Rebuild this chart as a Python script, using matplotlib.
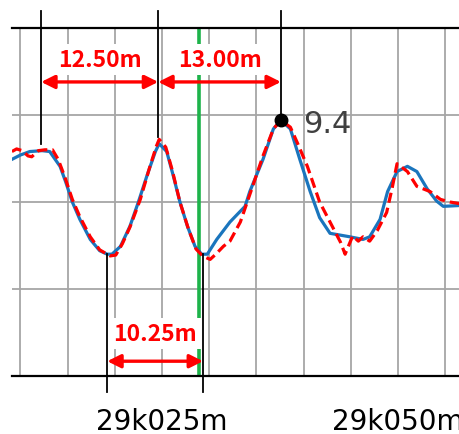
#!/usr/bin/env python3
"""Track irregularity chart: measured (blue) vs simulated (red dashed)."""
import matplotlib
matplotlib.use('Agg')
import matplotlib.pyplot as plt
from matplotlib.ticker import FixedLocator, MultipleLocator

BASE_M = 29000  # chainage base, metres

# measured profile (blue) — chainage offset from 29k000m, value
blue_x = [9.1, 10.0, 11.0, 12.3, 13.1, 14.2, 14.8, 15.5, 16.3, 17.4, 18.4, 19.2,
          19.7, 20.6, 21.6, 22.5, 23.4, 24.3, 24.7, 25.5, 26.2, 26.9, 27.7, 28.5,
          29.2, 29.8, 30.8, 32.2, 33.8, 34.3, 35.7, 36.8, 37.6, 38.6, 39.6, 40.7,
          41.7, 42.8, 44.9, 46.3, 47.0, 48.1, 48.9, 49.9, 51.0, 52.0, 53.1, 54.1,
          54.8, 56.6]
blue_y = [4.9, 5.4, 5.8, 5.9, 5.8, 4.1, 2.3, 0.0, -2.0, -4.3, -5.6, -6.0,
          -6.0, -5.1, -2.8, 0.0, 3.0, 5.8, 6.7, 5.8, 3.0, 0.0, -2.8, -5.1,
          -6.0, -6.0, -4.3, -2.3, -0.5, 1.2, 4.9, 8.4, 9.4, 8.4, 4.9, 1.2,
          -1.8, -3.6, -4.0, -4.3, -4.0, -2.0, 1.2, 3.5, 4.1, 3.5, 1.5, 0.1,
          -0.5, -0.4]

# simulated profile (red dashed)
red_x = [9.1, 9.6, 10.2, 10.8, 11.2, 11.9, 12.6, 13.4, 14.0, 14.7, 15.5, 16.3,
         17.4, 18.4, 19.5, 20.1, 20.8, 21.6, 22.7, 23.7, 24.4, 24.7, 25.4, 26.1,
         26.9, 27.8, 28.6, 29.3, 30.1, 30.7, 31.5, 32.2, 33.3, 34.6, 35.7, 36.8,
         37.6, 38.6, 39.3, 40.4, 41.7, 42.8, 43.9, 44.4, 45.2, 45.8, 46.3, 47.0,
         47.8, 48.8, 49.4, 49.9, 51.0, 52.0, 53.4, 54.5, 55.5, 56.6]
red_y = [5.8, 6.1, 5.9, 5.3, 5.2, 5.9, 6.0, 6.0, 4.9, 2.9, 0.3, -1.7,
         -4.0, -5.5, -6.2, -6.1, -4.8, -2.9, 0.3, 4.0, 6.4, 7.2, 6.3, 3.6,
         0.0, -3.1, -5.4, -6.2, -6.6, -6.0, -5.1, -4.5, -2.3, 1.8, 5.3, 8.4,
         9.4, 8.6, 6.9, 4.1, 0.0, -2.3, -4.6, -6.0, -3.9, -4.5, -4.0, -4.5,
         -3.3, -1.2, 1.7, 4.4, 3.5, 1.8, 1.2, 0.3, 0.0, -0.2]

peaks_x = [12.2, 24.6, 37.6]
peaks_top = [6.7, 7.5, 9.4]
troughs_x = [19.2, 29.35]
troughs_bot = [-6.0, -6.0]
peak_value = 9.4
cursor_x = 28.97
spans_top = ['12.50m', '13.00m']
span_bottom = '10.25m'
tick_pos = [25, 50]

RED = '#ff0000'
BLUE = '#1a75bd'
GREEN = '#1db34a'
JP = ['Noto Sans CJK JP', 'DejaVu Sans']


def chain_label(m):
    return f"{int(m)//1000}k{int(m)%1000:03d}m"


fig = plt.figure(figsize=(4.6, 4.35), dpi=100)
ax = fig.add_axes([12/460, 58/435, 448/460, 348/435])
ax.set_xlim(BASE_M + 9.11, BASE_M + 56.57)
ax.set_ylim(-20, 20)

# grid
ax.xaxis.set_major_locator(FixedLocator([BASE_M + t for t in tick_pos]))
ax.xaxis.set_minor_locator(MultipleLocator(5))
ax.yaxis.set_major_locator(FixedLocator([-10, 0, 10]))
ax.grid(which='both', axis='x', color='#a6a6a6', lw=1.3)
ax.grid(which='major', axis='y', color='#a6a6a6', lw=1.3)
ax.set_xticklabels([chain_label(BASE_M + t) for t in tick_pos], fontsize=20)
ax.tick_params(axis='x', which='both', length=0, pad=22)
ax.tick_params(axis='y', length=0, labelleft=False)
for s in ['left', 'right']:
    ax.spines[s].set_visible(False)
for s in ['top', 'bottom']:
    ax.spines[s].set_color('black'); ax.spines[s].set_linewidth(1.6)

# cursor
ax.axvline(BASE_M + cursor_x, color=GREEN, lw=2.6, zorder=2)

# curves
ax.plot([BASE_M + v for v in blue_x], blue_y, color=BLUE, lw=2.3, zorder=4,
        solid_joinstyle='round')
ax.plot([BASE_M + v for v in red_x], red_y, color=RED, lw=2.3, zorder=5,
        dashes=(3.2, 1.6))

# peak / trough reference lines
for px, py in zip(peaks_x, peaks_top):
    ax.plot([BASE_M + px]*2, [py, 21.9], color='black', lw=1.3,
            clip_on=False, zorder=6)
for tx, ty in zip(troughs_x, troughs_bot):
    ax.plot([BASE_M + tx]*2, [ty, -21.8], color='black', lw=1.3,
            clip_on=False, zorder=6)
ax.plot(BASE_M + peaks_x[2], peak_value, 'o', color='black', ms=9, zorder=7)
ax.text(BASE_M + 39.9, 9.0, f"{peak_value}", fontsize=22, color='#404040',
        ha='left', va='center', zorder=7)

# span arrows
arrow_kw = dict(arrowstyle='<|-|>', color=RED, lw=2.4, mutation_scale=20,
                shrinkA=0, shrinkB=0)
box = dict(facecolor='white', edgecolor='none', pad=3)
for (a, b), lab in zip([(peaks_x[0], peaks_x[1]), (peaks_x[1], peaks_x[2])], spans_top):
    ax.annotate('', xy=(BASE_M + a, 13.8), xytext=(BASE_M + b, 13.8),
                arrowprops=arrow_kw, zorder=8, annotation_clip=False)
    ax.text(BASE_M + (a + b)/2, 16.4, lab, fontsize=16.5, color=RED, family=JP,
            weight='bold', ha='center', va='center', bbox=box, zorder=8)
a, b = troughs_x
ax.annotate('', xy=(BASE_M + a, -18.3), xytext=(BASE_M + b, -18.3),
            arrowprops=arrow_kw, zorder=8, annotation_clip=False)
ax.text(BASE_M + (a + b)/2, -15.1, span_bottom, fontsize=16.5, color=RED, family=JP,
        weight='bold', ha='center', va='center', bbox=box, zorder=8)

plt.savefig('out.png', dpi=100)
